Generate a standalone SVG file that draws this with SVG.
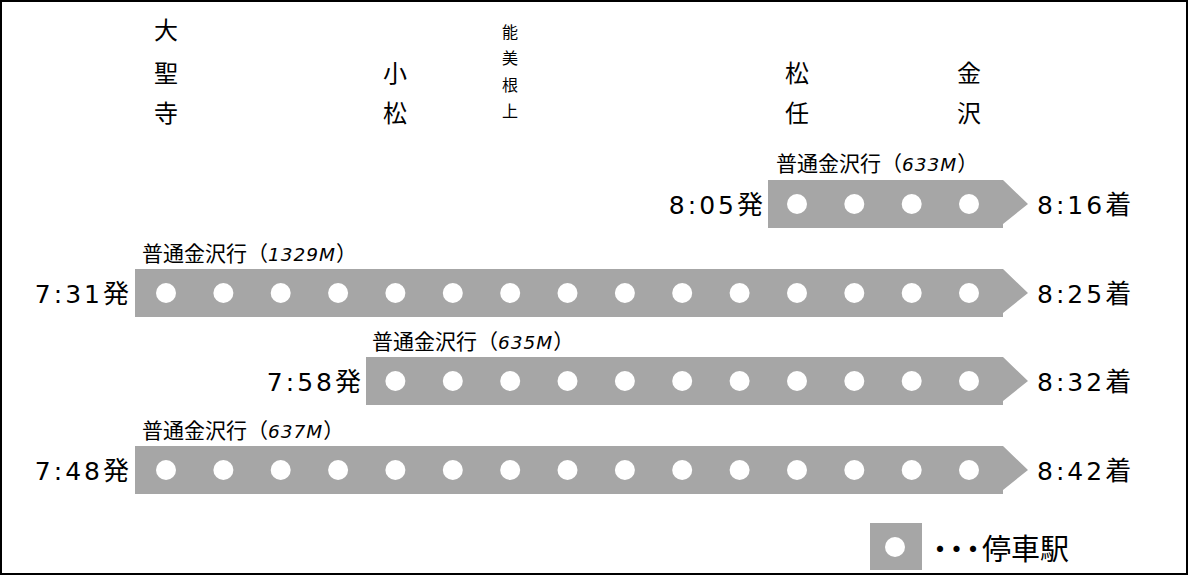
<svg xmlns="http://www.w3.org/2000/svg" width="1189" height="576" viewBox="0 0 1189 576">
<style>
.frame{fill:#fff;stroke:#000;stroke-width:2}
.bar{fill:#a6a6a6}
.stop{fill:#fff}
.st{font-family:"Noto Sans CJK JP",sans-serif;font-size:24px;fill:#000;text-anchor:middle}
.st2{font-family:"Noto Sans CJK JP",sans-serif;font-size:16px;fill:#000;text-anchor:middle}
.tr{font-family:"Noto Sans CJK JP",sans-serif;font-size:21px;fill:#000}
.tr .n{font-family:"DejaVu Sans","Noto Sans CJK JP",sans-serif;font-style:italic;font-size:18.5px;letter-spacing:1px}
.tm{font-family:"Noto Sans CJK JP",sans-serif;font-size:26px;fill:#000}
.tm .d{font-family:"DejaVu Sans",sans-serif;font-size:25px;letter-spacing:3px}
.dep{text-anchor:end}
.lg{font-family:"Noto Sans CJK JP",sans-serif;font-size:29px;fill:#000}
</style>
<defs>
<g id="dots4">
<circle class="stop" cx="797" cy="0" r="10"/><circle class="stop" cx="854.3" cy="0" r="10"/><circle class="stop" cx="911.7" cy="0" r="10"/><circle class="stop" cx="969" cy="0" r="10"/>
</g>
<g id="dots11">
<circle class="stop" cx="395.4" cy="0" r="10"/><circle class="stop" cx="452.8" cy="0" r="10"/><circle class="stop" cx="510.2" cy="0" r="10"/><circle class="stop" cx="567.5" cy="0" r="10"/><circle class="stop" cx="624.9" cy="0" r="10"/><circle class="stop" cx="682.2" cy="0" r="10"/><circle class="stop" cx="739.6" cy="0" r="10"/>
<use href="#dots4"/>
</g>
<g id="dots15">
<circle class="stop" cx="166" cy="0" r="10"/><circle class="stop" cx="223.4" cy="0" r="10"/><circle class="stop" cx="280.7" cy="0" r="10"/><circle class="stop" cx="338.1" cy="0" r="10"/>
<use href="#dots11"/>
</g>
</defs>
<rect class="frame" x="1" y="1" width="1186" height="573"/>

<g id="stations">
<g id="st-daishoji"><text class="st" x="166" y="39">大</text><text class="st" x="166" y="82">聖</text><text class="st" x="166" y="122">寺</text></g>
<g id="st-komatsu"><text class="st" x="395" y="82">小</text><text class="st" x="395" y="122">松</text></g>
<g id="st-nomineagari"><text class="st2" x="510" y="38">能</text><text class="st2" x="510" y="64">美</text><text class="st2" x="510" y="91">根</text><text class="st2" x="510" y="117">上</text></g>
<g id="st-matto"><text class="st" x="797" y="82">松</text><text class="st" x="797" y="122">任</text></g>
<g id="st-kanazawa"><text class="st" x="969" y="82">金</text><text class="st" x="969" y="122">沢</text></g>
</g>

<g id="train-633M">
<polygon class="bar" points="768,180 1003,180 1028,204 1003,224 1003,228 768,228"/>
<use href="#dots4" y="204"/>
<text class="tr" x="776" y="171">普通金沢行（<tspan class="n">633M</tspan>）</text>
<text class="tm dep" x="763" y="214"><tspan class="d">8:05</tspan>発</text>
<text class="tm" x="1037" y="214"><tspan class="d">8:16</tspan>着</text>
</g>

<g id="train-1329M">
<polygon class="bar" points="135,269 1003,269 1028,293 1003,313 1003,317 135,317"/>
<use href="#dots15" y="293"/>
<text class="tr" x="142" y="261">普通金沢行（<tspan class="n">1329M</tspan>）</text>
<text class="tm dep" x="129" y="303"><tspan class="d">7:31</tspan>発</text>
<text class="tm" x="1037" y="303"><tspan class="d">8:25</tspan>着</text>
</g>

<g id="train-635M">
<polygon class="bar" points="366,357 1003,357 1028,381 1003,401 1003,405 366,405"/>
<use href="#dots11" y="381"/>
<text class="tr" x="372" y="349">普通金沢行（<tspan class="n">635M</tspan>）</text>
<text class="tm dep" x="361" y="391"><tspan class="d">7:58</tspan>発</text>
<text class="tm" x="1037" y="391"><tspan class="d">8:32</tspan>着</text>
</g>

<g id="train-637M">
<polygon class="bar" points="135,446 1003,446 1028,470 1003,490 1003,494 135,494"/>
<use href="#dots15" y="470"/>
<text class="tr" x="142" y="438">普通金沢行（<tspan class="n">637M</tspan>）</text>
<text class="tm dep" x="129" y="480"><tspan class="d">7:48</tspan>発</text>
<text class="tm" x="1037" y="480"><tspan class="d">8:42</tspan>着</text>
</g>

<g id="legend">
<rect class="bar" x="870" y="523" width="52" height="47"/>
<circle class="stop" cx="895" cy="547" r="10"/>
<text class="lg" x="925.5 942 958.5 982 1011 1040" y="560">・・・停車駅</text>
</g>

<g id="connectors"/>
</svg>
